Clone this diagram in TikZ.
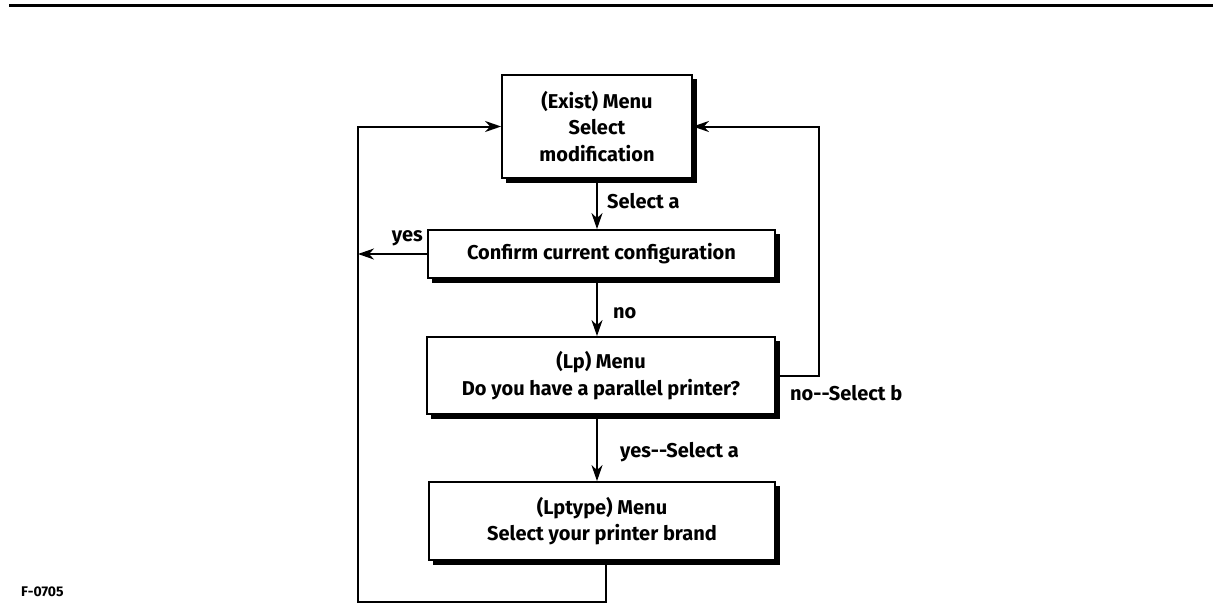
\documentclass[tikz,border=0pt]{standalone}
\usepackage{fontspec}
\setmainfont{Fira Sans}
\usetikzlibrary{arrows.meta,calc}
\begin{document}
\begin{tikzpicture}[x=1pt,y=-1pt,
  labelfont/.style={font=\bfseries\fontsize{20}{26.5}\selectfont},
  menubox/.style={draw, line width=1.8pt, inner sep=0pt, align=center, labelfont},
  shadowline/.style={line width=4pt},
  conn/.style={line width=2pt},
  arr/.style={conn, -{Stealth[length=16pt,width=11pt,inset=5pt]}},
  tag/.style={labelfont, inner sep=0pt, anchor=west}
]
\useasboundingbox (0,0) rectangle (1213,613);

% heading rule
\draw[line width=3pt] (9,5) -- (1213,5);

% menu boxes
\node[menubox, minimum width=190pt, minimum height=103pt] (b1) at (597,126.5)
  {(Exist) Menu\\Select\\modification};
\node[menubox, minimum width=347pt, minimum height=48pt] (b2) at (601.5,254)
  {Confirm current configuration};
\node[menubox, minimum width=348pt, minimum height=77pt] (b3) at (601,375.5)
  {(Lp) Menu\\Do you have a parallel printer?};
\node[menubox, minimum width=346pt, minimum height=78pt] (b4) at (602,521)
  {(Lptype) Menu\\Select your printer brand};

% heavy right and bottom edges of each box
\foreach \b in {b1,b2,b3,b4}{
  \draw[shadowline] ($(\b.north east)+(2,5)$) -- ($(\b.south east)+(2,2)$) -- ($(\b.south west)+(5,2)$);
}

% helper points for the return lines
\coordinate (lb) at (358,602);
\coordinate (rc) at (819,300);

% downward flow
\draw[arr] (b1.south) -- (b1.south |- b2.north);
\node[tag] (ta) at (607,201) {Select a};
\draw[arr] (b2.south -| b1.south) -- (b1.south |- b3.north);
\node[tag] (tn) at (613,313) {no};
\draw[arr] (b3.south -| b1.south) -- (b1.south |- b4.north);
\node[tag] (ty) at (620,452) {yes-{}-Select a};

% confirm: yes -> back to the left return line
\draw[arr] (b2.west) -- (b2.west -| lb);
\node[tag, anchor=east] (tyes) at (423,238) {yes};

% printer brand chosen -> back to the main menu
\draw[arr] ([xshift=4pt]b4.south) |- (lb) |- (b1.west);

% no parallel printer -> back to the main menu
\draw[arr] (b3.east) -| (rc) |- (b1.east);
\node[tag] (tnb) at (790,393) {no-{}-Select b};

% figure code
\node[anchor=west, inner sep=0pt, font=\bfseries\fontsize{14}{16}\selectfont] (code) at (21,592) {F-0705};
\end{tikzpicture}
\end{document}
